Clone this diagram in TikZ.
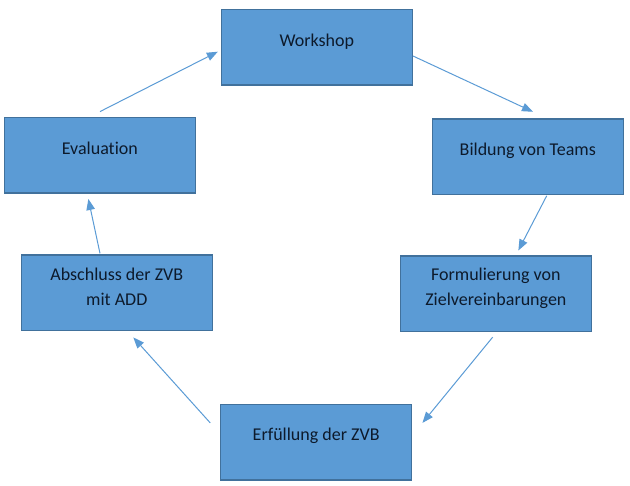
\documentclass[tikz,border=0pt]{standalone}
\usepackage{fontspec}
\setmainfont{Carlito}[Ligatures=NoCommon]
\usetikzlibrary{arrows.meta}
\definecolor{boxfill}{HTML}{5B9BD5}
\definecolor{boxline}{HTML}{41719C}
\definecolor{arrowc}{HTML}{5B9BD5}
\definecolor{txtc}{HTML}{0D1A2B}
\begin{document}
\begin{tikzpicture}[x=1pt,y=-1pt,
  box/.style={draw=boxline, fill=boxfill, line width=1.5pt, rectangle,
    minimum width=191pt, minimum height=75.5pt, inner sep=0pt,
    text=txtc, align=center,
    font=\fontsize{18}{25}\selectfont},
  oneline/.style={text height=13pt, text depth=15.5pt},
  twoline/.style={text height=38pt, text depth=13.5pt},
  conn/.style={draw=arrowc, line width=1pt,
    -{Triangle[length=11pt,width=8.5pt]}}
]
\useasboundingbox (0,0) rectangle (630,486);
\node[box,oneline] (ws)  at (316.75,47.5)  {Workshop};
\node[box,oneline] (bt)  at (527.8,156.6)  {Bildung von Teams};
\node[box,twoline] (fz)  at (495.85,293.7) {Formulierung von\\Zielvereinbarungen};
\node[box,oneline] (erf) at (316.2,442.2)  {Erfüllung der ZVB};
\node[box,twoline] (abs) at (116.8,292.9)  {Abschluss der ZVB\\mit ADD};
\node[box,oneline] (ev)  at (99.85,155.5)  {Evaluation};
\draw[conn] ([shift={(0,8.5)}]ws.east) -- ([shift={(5.2,-6.3)}]bt.north);
\draw[conn] ([shift={(18.9,0.7)}]bt.south) -- ([shift={(22.5,-4.7)}]fz.north);
\draw[conn] ([shift={(-3.2,5)}]fz.south) -- ([shift={(10,-19.3)}]erf.east);
\draw[conn] ([shift={(-9.7,-19.3)}]erf.west) -- ([shift={(16.5,6)}]abs.south);
\draw[conn] ([shift={(-16.8,-1)}]abs.north) -- ([shift={(-11.5,5)}]ev.south);
\draw[conn] ([shift={(0.15,-5.4)}]ev.north) -- ([shift={(-2.7,4.2)}]ws.west);
\end{tikzpicture}
\end{document}
